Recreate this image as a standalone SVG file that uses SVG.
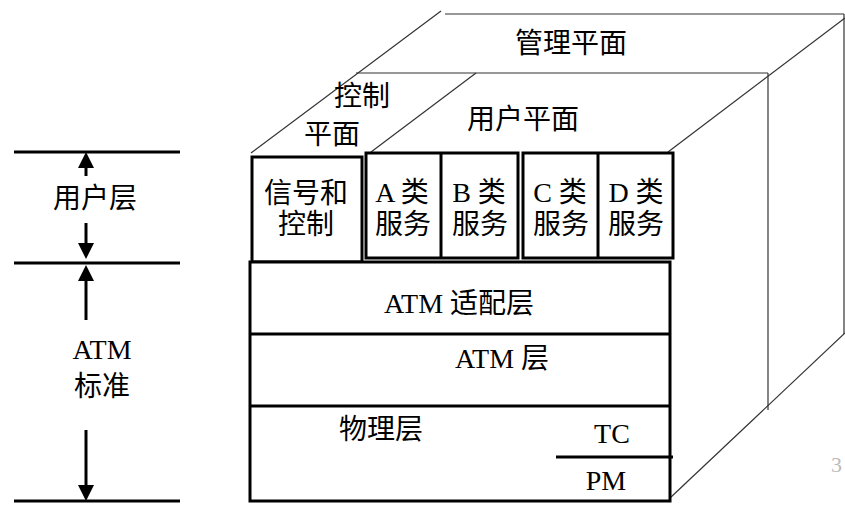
<svg xmlns="http://www.w3.org/2000/svg" width="845" height="505" viewBox="0 0 845 505">
<style>
.thin{stroke:#333;stroke-width:1.2;fill:none}
.thick{stroke:#000;stroke-width:3;fill:none}
.box{stroke:#000;stroke-width:3;fill:#fff}
text{font-family:"Liberation Serif","Noto Sans CJK SC",serif;font-size:28px;fill:#000;text-anchor:middle}
.ah{fill:#000}
</style>
<rect width="845" height="505" fill="#fff"/>
<g id="cube-lines">
<line class="thin" x1="441" y1="11" x2="251" y2="153"/>
<line class="thin" x1="445" y1="14" x2="844" y2="14"/>
<line class="thin" x1="844" y1="14" x2="844" y2="334"/>
<line class="thin" x1="845" y1="18" x2="668" y2="152"/>
<line class="thin" x1="356" y1="73" x2="768" y2="73"/>
<line class="thin" x1="768" y1="73" x2="768" y2="410"/>
<line class="thin" x1="476" y1="73" x2="371" y2="152"/>
<line class="thin" x1="670" y1="498" x2="845" y2="333"/>
</g>
<g id="management-plane"><text x="571" y="53">管理平面</text></g>
<g id="control-plane"><text x="362" y="106">控制</text><text x="332" y="144">平面</text></g>
<g id="user-plane"><text x="523" y="129">用户平面</text></g>
<g id="signal-control">
<rect class="box" x="252" y="157" width="110" height="105"/>
<text x="306" y="203">信号和</text><text x="306" y="234">控制</text>
</g>
<g id="ab-services">
<rect class="box" x="366" y="153" width="152" height="105"/>
<line class="thick" x1="441" y1="153" x2="441" y2="258"/>
<text x="402" y="202">A 类</text><text x="403" y="234">服务</text>
<text x="479" y="202">B 类</text><text x="480" y="234">服务</text>
</g>
<g id="cd-services">
<rect class="box" x="523" y="153" width="150" height="105"/>
<line class="thick" x1="598" y1="153" x2="598" y2="258"/>
<text x="560" y="202">C 类</text><text x="561" y="234">服务</text>
<text x="636" y="202">D 类</text><text x="636" y="234">服务</text>
</g>
<g id="layer-stack">
<rect class="box" x="250" y="262" width="420" height="239"/>
<line class="thick" x1="250" y1="334" x2="670" y2="334"/>
<line class="thick" x1="250" y1="406" x2="670" y2="406"/>
</g>
<g id="aal"><text x="459" y="313">ATM 适配层</text></g>
<g id="atm-layer"><text x="502" y="368">ATM 层</text></g>
<g id="physical">
<text x="381" y="439">物理层</text>
<line class="thick" x1="556" y1="457" x2="673" y2="457"/>
<text x="612" y="443">TC</text>
<text x="606" y="490">PM</text>
</g>
<g id="left-scale">
<line class="thick" x1="14" y1="152" x2="180" y2="152"/>
<line class="thick" x1="14" y1="263" x2="180" y2="263"/>
<line class="thick" x1="14" y1="501" x2="180" y2="501"/>
<text x="95" y="208">用户层</text>
<text x="102" y="359">ATM</text>
<text x="102" y="396">标准</text>
</g>
<g id="connectors">
<line class="thick" x1="86" y1="165" x2="86" y2="176"/>
<polygon class="ah" points="86,152 78,168 94,168"/>
<line class="thick" x1="86" y1="223" x2="86" y2="246"/>
<polygon class="ah" points="86,259 78,243 94,243"/>
<line class="thick" x1="86" y1="278" x2="86" y2="320"/>
<polygon class="ah" points="86,265 78,281 94,281"/>
<line class="thick" x1="86" y1="430" x2="86" y2="488"/>
<polygon class="ah" points="86,501 78,485 94,485"/>
</g>
<text x="831" y="472" style="fill:#bbb;font-size:22px;text-anchor:start">3</text>
</svg>
